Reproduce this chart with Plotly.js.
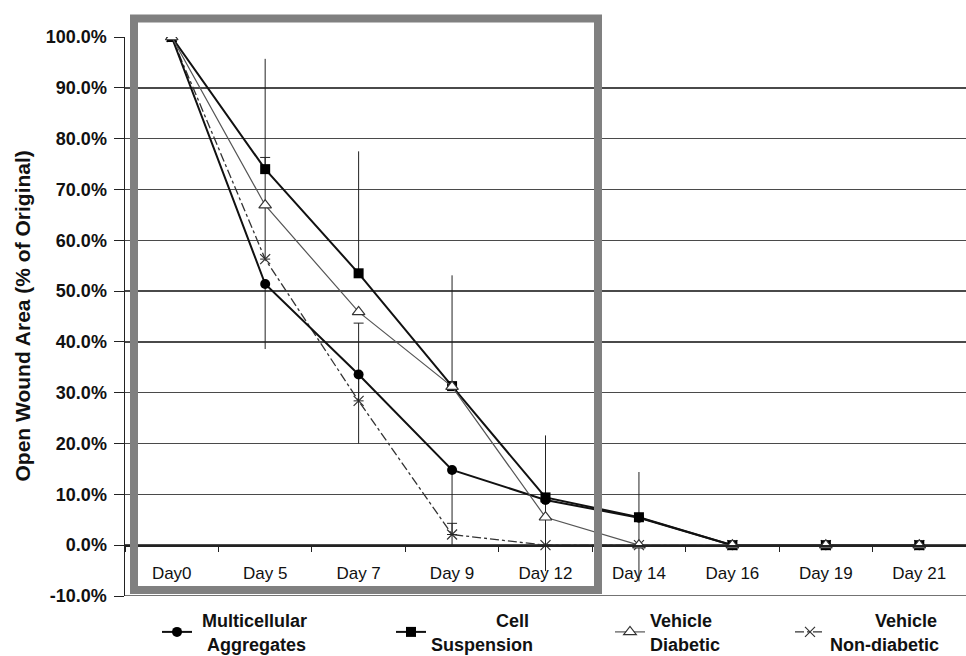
<!DOCTYPE html>
<html><head><meta charset="utf-8">
<script src="https://cdn.plot.ly/plotly-3.0.1.min.js"></script>
<style>body{margin:0;background:#fff}#c{width:966px;height:656px}</style>
</head><body><div id="c"></div>
<script>
const days = ["Day0","Day 5","Day 7","Day 9","Day 12","Day 14","Day 16","Day 19","Day 21"];
const multicellular = [100, 51.4, 33.6, 14.8, 8.9, 5.4, 0, 0, 0];
const multicellularErrMinus = [0, 12.8, 13.6, 14.8, 14.0, 12.5, 0, 0, 0];
const cellSuspension = [100, 74.0, 53.5, 31.3, 9.4, 5.5, 0, 0, 0];
const cellSuspensionErrPlus = [0, 21.7, 24.0, 21.8, 12.2, 8.9, 0, 0, 0];
const vehicleDiabetic = [100, 66.9, 45.9, 31.2, 5.5, 0, 0, 0, 0];
const vehicleNonDiabetic = [100, 56.3, 28.4, 2.1, 0, 0, 0, 0, 0];
const vehicleNonDiabeticErrPlus = [0, 20.0, 15.3, 2.2, 0, 0, 0, 0, 0];
const yTicks = [-10,0,10,20,30,40,50,60,70,80,90,100];
const yTickText = yTicks.map(v => v.toFixed(1) + "%");
const NB = "\u00A0";
const seriesNames = {
  multicellular: NB + "Multicellular<br>" + NB + NB + "Aggregates",
  cellSuspension: NB.repeat(13) + "Cell<br>Suspension",
  vehicleDiabetic: "Vehicle<br>Diabetic",
  vehicleNonDiabetic: NB.repeat(9) + "Vehicle<br>Non-diabetic"
};

const zeros = days.map(() => 0);
const traces = [
  {name:seriesNames.vehicleNonDiabetic, x:days, y:vehicleNonDiabetic, type:"scatter", mode:"lines+markers",
   legend:"legend4",
   line:{color:"#333", width:1.3, dash:"dashdot"},
   marker:{symbol:"x-thin-open", size:10, line:{color:"#333", width:1.2}},
   error_y:{type:"data", array:vehicleNonDiabeticErrPlus, arrayminus:zeros, symmetric:false, color:"#222", thickness:1, width:5}},
  {name:seriesNames.cellSuspension, x:days, y:cellSuspension, type:"scatter", mode:"lines+markers",
   legend:"legend2",
   line:{color:"#111", width:2},
   marker:{symbol:"square", size:10, color:"#000"},
   error_y:{type:"data", array:cellSuspensionErrPlus, arrayminus:zeros, symmetric:false, color:"#222", thickness:1, width:0}},
  {name:seriesNames.multicellular, x:days, y:multicellular, type:"scatter", mode:"lines+markers",
   legend:"legend",
   line:{color:"#111", width:2},
   marker:{symbol:"circle", size:10, color:"#000"},
   error_y:{type:"data", array:zeros, arrayminus:multicellularErrMinus, symmetric:false, color:"#222", thickness:1, width:0}},
  {name:seriesNames.vehicleDiabetic, x:days, y:vehicleDiabetic, type:"scatter", mode:"lines+markers",
   legend:"legend3",
   line:{color:"#555", width:1.2},
   marker:{symbol:"triangle-up", size:11, color:"#fff", line:{color:"#333", width:1.2}}}
];

const legFont = {size:18, family:"Liberation Sans, Arial, sans-serif", weight:"bold", color:"#111"};
function leg(xpx) {
  return {xref:"container", yref:"container", x:xpx/966, y:1-602/656, xanchor:"left", yanchor:"top",
    font:legFont, bgcolor:"rgba(0,0,0,0)", borderwidth:0, valign:"middle"};
}

const layout = {
  width:966, height:656,
  margin:{l:125, r:0, t:37, b:60, autoexpand:false},
  paper_bgcolor:"#fff", plot_bgcolor:"#fff",
  font:{family:"Liberation Sans, Arial, sans-serif", color:"#111", size:15},
  showlegend:true,
  legend:leg(157), legend2:leg(391), legend3:leg(610), legend4:leg(790),
  xaxis:{type:"category", range:[-0.5, 8.5], anchor:"free", position:10/110,
    showline:true, linecolor:"#222", linewidth:1.5,
    ticks:"outside", tickson:"boundaries", ticklen:5, tickcolor:"#222",
    ticklabelstandoff:12, tickangle:0,
    showgrid:false, tickfont:{size:17}, fixedrange:true},
  yaxis:{range:[-10, 100], tickvals:yTicks, ticktext:yTickText,
    showline:true, linecolor:"#222", linewidth:1.5, ticks:"outside", ticklen:10, tickcolor:"#222",
    ticklabelstandoff:3,
    showgrid:true, gridcolor:"#4a4a4a", gridwidth:1.4, zeroline:false,
    tickfont:{size:18, weight:"bold"}},
  annotations:[
    {text:"Open Wound Area (% of Original)", xref:"paper", yref:"paper", x:(22-125)/841, y:0.5,
     xanchor:"center", yanchor:"middle", textangle:-90, showarrow:false,
     font:{size:21, weight:"bold", family:"Liberation Sans, Arial, sans-serif", color:"#111"}}
  ],
  shapes:[
    {type:"rect", xref:"paper", yref:"paper", x0:(134-125)/841, x1:(598-125)/841, y0:(596-590)/559, y1:(596-18.5)/559,
     line:{color:"#808080", width:8}, fillcolor:"rgba(0,0,0,0)", layer:"above"},
    {type:"line", xref:"paper", yref:"y", x0:0, x1:1, y0:-10, y1:-10, line:{color:"#444", width:1.5}}
  ]
};
Plotly.newPlot("c", traces, layout, {staticPlot:true});
</script></body></html>
